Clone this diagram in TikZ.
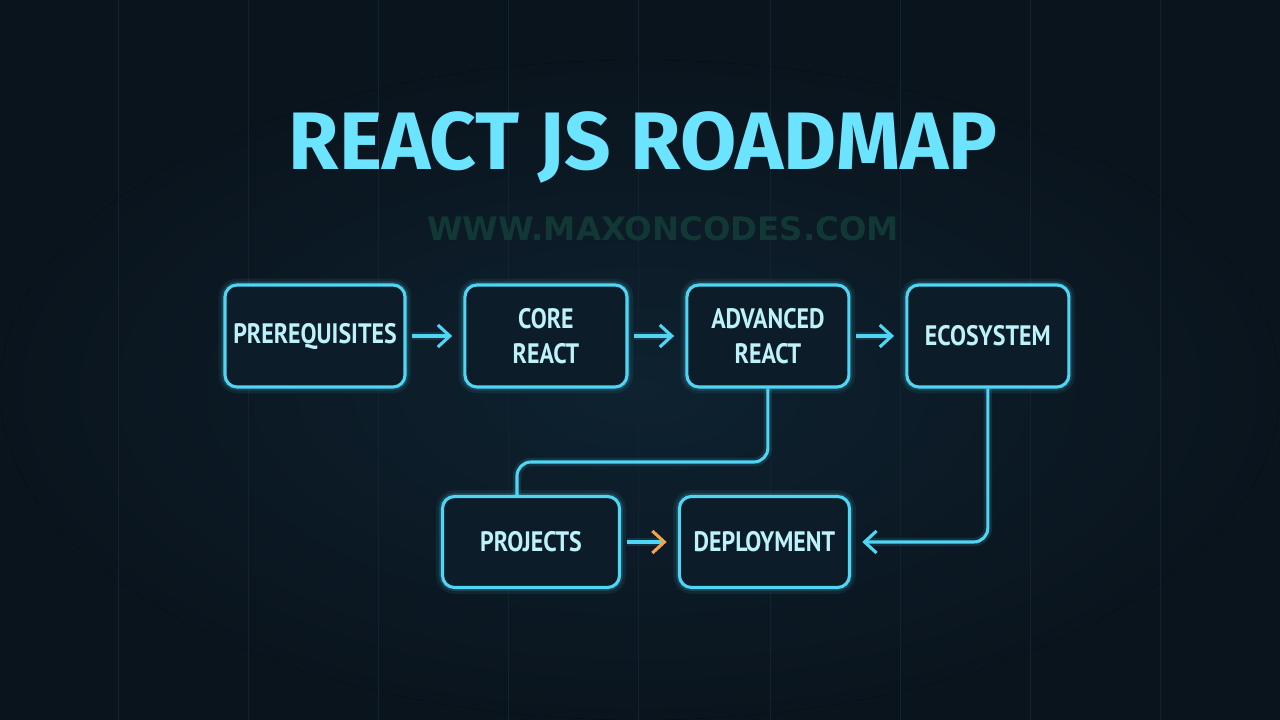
\documentclass[tikz,border=0pt]{standalone}
\usepackage{fontspec}
\setmainfont{Fira Sans}
\newfontfamily\boxfont[FakeStretch=0.85]{PT Sans}
\newfontfamily\webfont{DejaVu Sans}
\usetikzlibrary{positioning, arrows.meta}

\definecolor{bgnavy}{HTML}{0A141D}
\definecolor{bgcenter}{HTML}{0E2230}
\definecolor{gridline}{HTML}{122230}
\definecolor{neon}{HTML}{4FD6F4}
\definecolor{boxfill}{HTML}{0C1D29}
\definecolor{boxtext}{HTML}{BDF2FA}
\definecolor{titlecyan}{HTML}{6DE4FF}
\definecolor{webgreen}{HTML}{113834}
\definecolor{tiporange}{HTML}{F4A24C}

\tikzset{
  stage/.style={draw=neon, fill=boxfill, line width=2.2pt, rounded corners=0.3cm,
    minimum width=4.05cm, minimum height=2.55cm, align=center, inner sep=2pt,
    text=boxtext, font=\boxfont\bfseries\fontsize{20}{25}\selectfont,
    preaction={draw=neon, line width=9pt, opacity=0.08},
    preaction={draw=neon, line width=5pt, opacity=0.15}},
  link/.style={draw=neon, line width=2.2pt, rounded corners=0.35cm,
    preaction={draw=neon, line width=6pt, opacity=0.12}},
  tip/.style={-{Straight Barb[length=0.3cm, width=0.55cm, line width=2.2pt]}}
}

\begin{document}
\begin{tikzpicture}[x=0.025cm, y=0.025cm, node distance=1.42cm]
\useasboundingbox[fill=bgnavy] (0,0) rectangle (1280,720);
\fill[inner color=bgcenter, outer color=bgnavy] (640,330) ellipse (640 and 330);
\foreach \gx in {118,248,378,508,638,770,900,1030,1160}
  \draw[gridline, line width=0.4pt] (\gx,0) -- (\gx,720);

\node[text=titlecyan, font=\bfseries\fontsize{58}{66}\selectfont] (title) at (643,573) {REACT JS ROADMAP};
\node[text=webgreen, font=\webfont\bfseries\fontsize{23}{27}\selectfont] (web) at (663,491) {WWW.MAXONCODES.COM};

\node[stage, minimum width=4.5cm] (pre) at (315,384) {PREREQUISITES};
\node[stage, right=of pre] (core) {CORE\\REACT};
\node[stage, right=of core] (adv) {ADVANCED\\REACT};
\node[stage, right=1.37cm of adv] (eco) {ECOSYSTEM};
\node[stage, minimum width=4.425cm, minimum height=2.275cm] (proj) at (531,178) {PROJECTS};
\node[stage, minimum width=4.25cm, minimum height=2.275cm, right=of proj] (dep) {DEPLOYMENT};

\draw[link, tip, shorten <=4pt, shorten >=8pt] (pre) -- (core);
\draw[link, tip, shorten <=4pt, shorten >=8pt] (core) -- (adv);
\draw[link, tip, shorten <=4pt, shorten >=8pt] (adv) -- (eco);
\draw[link] (adv.south) |- (517,258) -- (proj.north -| 517,0);
\draw[link, tip, shorten >=8pt] (eco.south) |- (dep.east);
\draw[link, -{Straight Barb[length=0.3cm, width=0.55cm, line width=2.2pt, color=tiporange]},
  shorten <=4pt, shorten >=8pt] (proj) -- (dep);
\end{tikzpicture}
\end{document}
